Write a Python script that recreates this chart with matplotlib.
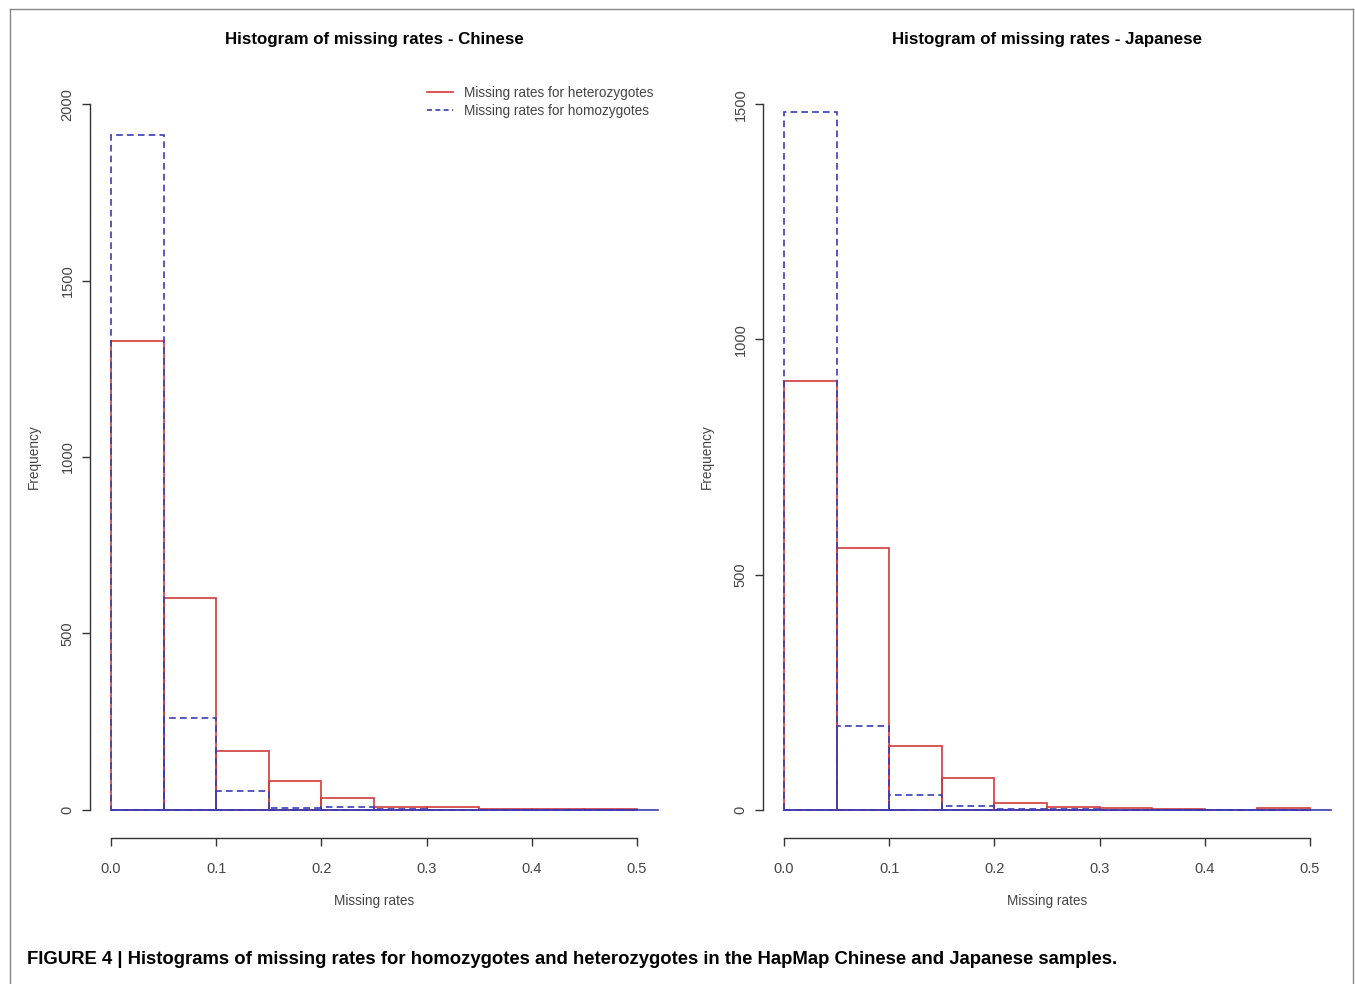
import numpy as np
import matplotlib
matplotlib.use("Agg")
import matplotlib.pyplot as plt
from matplotlib.lines import Line2D

plt.rcParams['font.family'] = ['Liberation Sans', 'DejaVu Sans']

# bin edges of the missing rates (width 0.05)
edges = np.round(np.arange(0, 0.5001, 0.05), 2)

# counts per bin
chinese_het = [1328, 600, 167, 82, 34, 7, 7, 2, 2, 2]
chinese_hom = [1912, 261, 54, 5, 8, 1, 0, 0, 0, 0]
japanese_het = [911, 557, 136, 68, 14, 5, 3, 1, 0, 4]
japanese_hom = [1483, 178, 32, 7, 2, 1, 0, 0, 0, 0]

panels = [
    ("Histogram of missing rates - Chinese", chinese_het, chinese_hom, [0, 500, 1000, 1500, 2000], 2000),
    ("Histogram of missing rates - Japanese", japanese_het, japanese_hom, [0, 500, 1000, 1500], 1500),
]
xticks = [0.0, 0.1, 0.2, 0.3, 0.4, 0.5]

red = '#d23a3a'
blue = '#3b3bb5'
grey = '#333333'

fig = plt.figure(figsize=(13.55, 9.84), dpi=100)

W, H = 1355.0, 984.0
lefts = [90, 763]
for k, (title, het, hom, yt, ymax) in enumerate(panels):
    ax = fig.add_axes([lefts[k] / W, 1 - 838 / H, 568 / W, 762 / H])
    ax.set_xlim(-0.02, 0.52)
    ax.set_ylim(-0.04 * ymax, 1.04 * ymax)

    ax.bar(edges[:-1], het, width=0.05, align='edge', fill=False,
           edgecolor=red, linewidth=1.2)
    ax.bar(edges[:-1], hom, width=0.05, align='edge', fill=False,
           edgecolor=blue, linewidth=1.2, linestyle=(0, (4, 2.5)))
    ax.plot([0, 0.52], [0, 0], color=blue, linewidth=1.2, clip_on=False)

    for s in ['top', 'right']:
        ax.spines[s].set_visible(False)
    ax.spines['left'].set_bounds(0, ymax)
    ax.spines['bottom'].set_bounds(0, 0.5)
    for s in ['left', 'bottom']:
        ax.spines[s].set_color(grey)
        ax.spines[s].set_linewidth(1.0)

    ax.set_yticks(yt)
    ax.set_yticklabels([str(v) for v in yt], rotation=90, va='center')
    ax.set_xticks(xticks)
    ax.set_xticklabels(['%.1f' % v for v in xticks])
    ax.tick_params(length=6, width=1.0, color=grey, labelsize=10.5,
                   labelcolor='#444444')
    ax.tick_params(axis='x', pad=11)
    ax.tick_params(axis='y', pad=5)

    ax.set_xlabel("Missing rates", fontsize=9.8, color='#444444', labelpad=13)
    ax.set_ylabel("Frequency", fontsize=9.8, color='#444444', labelpad=14)
    ax.set_title(title, fontsize=12.2, fontweight='bold', pad=23)

    if k == 0:
        handles = [Line2D([], [], color=red, linewidth=1.2),
                   Line2D([], [], color=blue, linewidth=1.2, linestyle=(0, (3, 2)))]
        ax.legend(handles, ["Missing rates for heterozygotes",
                            "Missing rates for homozygotes"],
                  loc='upper right', bbox_to_anchor=(1.013, 1.003), frameon=False,
                  fontsize=9.8, handlelength=1.9, labelspacing=0.28,
                  handletextpad=0.8, labelcolor='#444444')

# thin frame around the figure
for xs, ys in [([10, 10], [0, 975]), ([10, 1353], [975, 975]), ([1353, 1353], [975, 0])]:
    fig.add_artist(Line2D(np.array(xs) / W, np.array(ys) / H, color='#888888', linewidth=1.0))

fig.text(27 / W, 1 - 960 / H,
         "FIGURE 4 | Histograms of missing rates for homozygotes and heterozygotes in the HapMap Chinese and Japanese samples.",
         fontsize=13.33, fontweight='bold', va='center', ha='left')

fig.savefig("out.png", dpi=100)
